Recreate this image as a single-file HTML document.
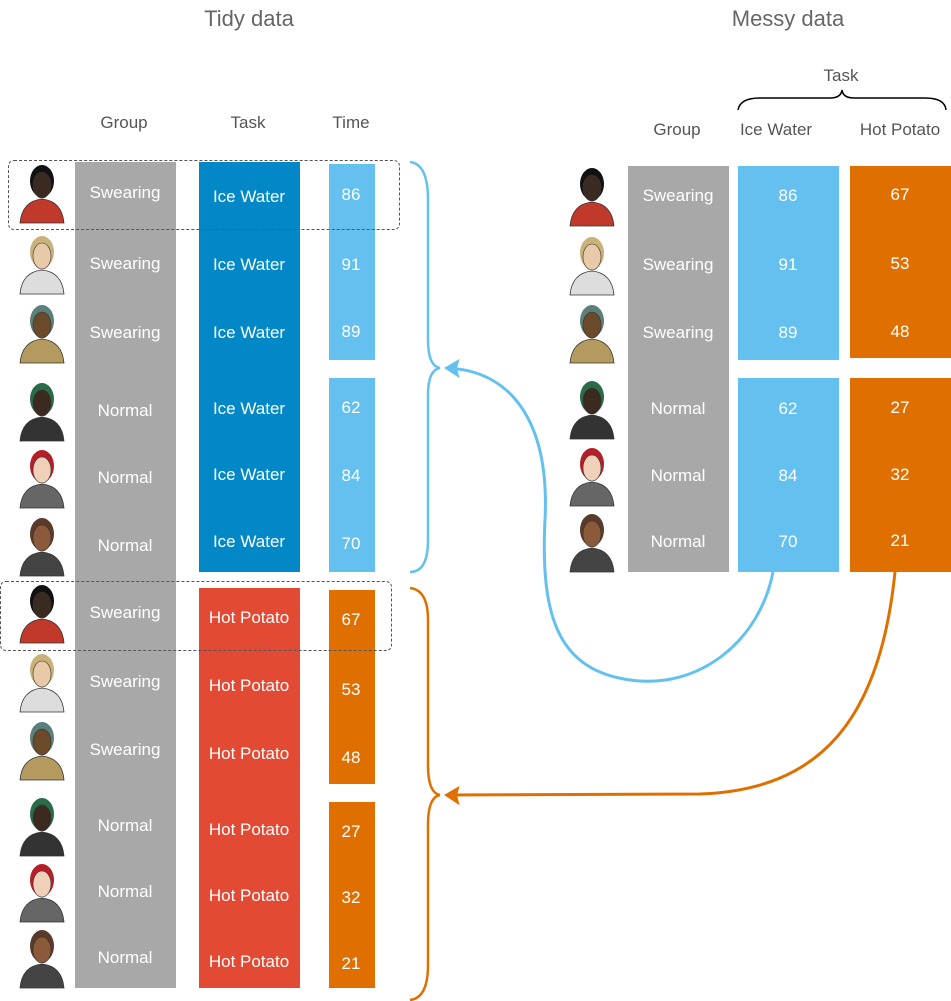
<!DOCTYPE html>
<html><head><meta charset="utf-8"><style>
body{margin:0;width:951px;height:1001px;background:#fff;position:relative;overflow:hidden;font-family:"Liberation Sans",sans-serif}
.a{position:absolute}
.t{position:absolute;color:#666;font-size:22px;transform:translateX(-50%);white-space:nowrap}
.h{position:absolute;color:#555;font-size:17px;transform:translateX(-50%);white-space:nowrap}
.blk{position:absolute}
.lbl{position:absolute;color:#fff;font-size:17px;transform:translate(-50%,-50%);white-space:nowrap}
</style></head><body>
<div class="t" style="left:249px;top:6px">Tidy data</div>
<div class="t" style="left:788px;top:6px">Messy data</div>
<div class="h" style="left:124px;top:113px">Group</div>
<div class="h" style="left:248px;top:113px">Task</div>
<div class="h" style="left:351px;top:113px">Time</div>
<div class="h" style="left:841px;top:66px">Task</div>
<div class="h" style="left:677px;top:120px">Group</div>
<div class="h" style="left:776px;top:120px">Ice Water</div>
<div class="h" style="left:900px;top:120px">Hot Potato</div>

<div class="blk" style="left:75px;top:162px;width:101px;height:826px;background:#a8a8a8"></div>
<div class="blk" style="left:199px;top:162px;width:101px;height:410px;background:#0288c7"></div>
<div class="blk" style="left:199px;top:588px;width:101px;height:400px;background:#e34a33"></div>
<div class="blk" style="left:329px;top:164px;width:46px;height:196px;background:#64c0ef"></div>
<div class="blk" style="left:329px;top:378px;width:46px;height:194px;background:#64c0ef"></div>
<div class="blk" style="left:329px;top:590px;width:46px;height:194px;background:#df7000"></div>
<div class="blk" style="left:329px;top:802px;width:46px;height:186px;background:#df7000"></div>

<div class="blk" style="left:628px;top:166px;width:101px;height:406px;background:#a8a8a8"></div>
<div class="blk" style="left:738px;top:166px;width:101px;height:194px;background:#64c0ef"></div>
<div class="blk" style="left:738px;top:378px;width:101px;height:194px;background:#64c0ef"></div>
<div class="blk" style="left:850px;top:166px;width:101px;height:192px;background:#df7000"></div>
<div class="blk" style="left:850px;top:378px;width:101px;height:194px;background:#df7000"></div>

<div class="a" style="left:8px;top:160px;width:390px;height:68px;border:1px dashed #555;border-radius:6px"></div>
<div class="a" style="left:0px;top:581px;width:390px;height:68px;border:1px dashed #555;border-radius:6px"></div>

<svg class="a" style="left:0;top:0" width="951" height="1001">
<path d="M410,162 Q428,164 428,200 L428,340 Q428,366 440,368 Q428,370 428,395 L428,540 Q428,572 410,572" fill="none" stroke="#64c0ef" stroke-width="2.5"/>
<path d="M410,588 Q428,590 428,620 L428,765 Q428,793 440,795 Q428,797 428,825 L428,965 Q428,998 410,1000" fill="none" stroke="#df7000" stroke-width="2.5"/>
<path d="M738,110 Q740,98 760,98 L830,98 Q841,98 842,90 Q843,98 854,98 L925,98 Q945,98 946,110" fill="none" stroke="#000" stroke-width="1.5"/>
<path d="M773,572 C760,640 700,690 630,680 C560,670 540,620 545,520 C550,420 510,370 446,368" fill="none" stroke="#64c0ef" stroke-width="3"/>
<path d="M446,368 L458,361 L456,368 L458,376 Z" fill="#64c0ef" stroke="#64c0ef" stroke-width="2"/>
<path d="M895,572 C880,720 820,790 700,794 L446,795" fill="none" stroke="#df7000" stroke-width="3"/>
<path d="M446,795 L458,788 L456,795 L458,803 Z" fill="#df7000" stroke="#df7000" stroke-width="2"/>
<g id="av"></g>
</svg>
<div id="labels"></div>
<script>
const groups=["Swearing","Swearing","Swearing","Normal","Normal","Normal"];
const iceWater=[86,91,89,62,84,70];
const hotPotato=[67,53,48,27,32,21];
const tidyY=[193,264,333,411,478,546,613,682,750,826,892,958];
const taskY=[197,265,333,409,475,542,618,686,754,830,896,962];
const timeY=[195,265,332,408,476,544,620,690,758,832,898,964];
const messyY=[196,265,333,409,476,542];
const people=[["#3a2a22","#111","#c0392b"],["#e8c9a8","#c9b27a","#ddd"],["#6b4a2a","#5b7f7a","#b59a5f"],["#3b2a20","#2a6b4a","#333"],["#f0d0b8","#b3202a","#666"],["#8a5a3a","#5a3a2a","#444"]];
const L=document.getElementById('labels');
function lbl(x,y,t,n){const d=document.createElement('div');d.className='lbl';d.style.left=x+'px';d.style.top=y+'px';d.textContent=t;


L.appendChild(d);}
const AV=document.getElementById('av');const NS='http://www.w3.org/2000/svg';
function avatar(cx,cy,p){const g=document.createElementNS(NS,'g');


g.innerHTML=`<path d="M${cx-22},${cy+30} Q${cx-20},${cy+8} ${cx},${cy+6} Q${cx+20},${cy+8} ${cx+22},${cy+30} Z" fill="${p[2]}" stroke="#333" stroke-width="0.8"/>
<ellipse cx="${cx}" cy="${cy-12}" rx="12" ry="16" fill="${p[1]}"/>
<ellipse cx="${cx}" cy="${cy-8}" rx="9" ry="13" fill="${p[0]}" stroke="#333" stroke-width="0.6"/>`;AV.appendChild(g);}
for(let k=0;k<2;k++){const task=k?"Hot Potato":"Ice Water";const vals=k?hotPotato:iceWater;
for(let i=0;i<6;i++){const r=k*6+i;
lbl(125,tidyY[r],groups[i],'tidy-group-cell');
lbl(249,taskY[r],task,'tidy-task-cell');
lbl(351,timeY[r],vals[i],'tidy-time-cell');
avatar(42,tidyY[r],people[i]);}}
for(let i=0;i<6;i++){lbl(678,messyY[i],groups[i],'messy-group-cell');
lbl(788,messyY[i],iceWater[i],'messy-icewater-cell');
lbl(900,messyY[i]-1,hotPotato[i],'messy-hotpotato-cell');
avatar(592,messyY[i],people[i]);}
</script>
</body></html>
